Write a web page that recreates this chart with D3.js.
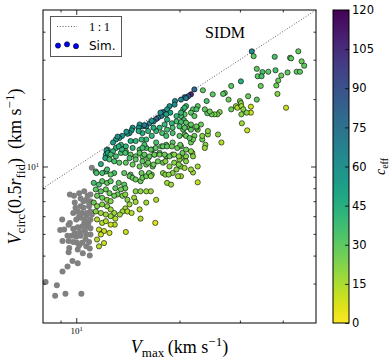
<!DOCTYPE html>
<html lang="en">
<head>
<meta charset="UTF-8">
<title>SIDM: Vcirc(0.5 r_fid) vs Vmax</title>
<script src="https://d3js.org/d3.v7.min.js"></script>
<style>
  body, html { margin: 0; padding: 0; background: #fff; }
  svg { display: block; }
  .serif { font-family: "Liberation Serif", "DejaVu Serif", serif; }
  .sans { font-family: "DejaVu Sans", sans-serif; }
</style>
</head>
<body>
<div id="chart"></div>
<script>
// resolved haloes: [Vmax, Vcirc(0.5 r_fid), c_eff]
const simPoints = [
  [32.5,32.7,65],[32.9,31.1,30],[44.4,32.7,30],[37.9,30.9,35],[42.0,30.6,30],[42.3,30.4,30],[45.4,29.5,27],[46.2,28.2,30],
  [33.6,27.3,30],[34.9,26.4,35],[36.3,26.5,30],[38.1,26.9,35],[33.8,25.3,30],[34.7,25.3,35],[41.3,26.3,30],[43.9,26.5,30],
  [44.9,26.5,30],[39.6,25.5,27],[38.8,24.2,27],[30.2,24.0,45],[34.5,22.9,27],[28.3,22.9,30],[38.3,23.0,27],[38.6,21.1,22],
  [27.1,21.3,30],[26.8,21.1,30],[25.0,21.0,30],[23.4,21.9,30],[22.6,18.6,30],[24.0,19.6,35],[27.8,19.9,27],[31.7,20.6,27],
  [33.6,19.9,30],[40.9,18.3,10],[30.0,19.6,22],[30.2,19.2,22],[29.2,18.6,18],[29.5,18.3,14],[30.3,18.6,18],[32.3,18.5,10],
  [32.3,17.4,10],[30.7,18.0,22],[31.4,17.4,22],[28.3,18.0,27],[26.2,17.5,22],[25.8,17.1,27],[25.3,17.1,22],[24.8,17.1,27],
  [24.1,17.3,30],[24.5,17.6,27],[23.7,18.0,30],[21.9,18.0,30],[21.6,17.4,30],[20.9,18.6,35],[20.5,18.0,35],[20.7,17.1,30],
  [30.3,17.1,22],[30.4,15.6,18],[31.5,14.5,10],[26.5,12.8,14],[25.9,13.9,22],[24.2,13.9,22],[24.2,14.4,22],[23.3,13.2,27],
  [23.3,13.7,22],[23.8,12.5,22],[23.7,12.1,18],[21.6,12.8,27],[22.6,14.6,27],[22.4,14.9,27],[21.4,14.9,30],[21.6,14.6,30],
  [20.5,14.6,30],[20.7,13.9,30],[20.9,13.7,27],[22.1,13.7,27],[21.9,13.2,27],[23.1,15.4,27],[21.8,11.5,18],[20.9,11.1,22],
  [20.2,16.8,35],[20.6,16.1,35],[21.9,9.4,18],[20.2,10.0,22],[20.4,11.5,27],[20.2,10.9,22],[22.6,8.5,10],
  [22.1,22.1,80],[21.6,21.0,108],[21.2,20.6,85],[20.7,20.4,80],[20.2,19.9,65],[20.9,20.2,72],[19.4,19.6,65],[19.35,18.9,60],
  [18.7,18.6,60],[18.4,18.0,55],[17.9,17.5,80],[18.8,17.4,50],[18.3,17.1,50],[17.7,16.8,72],[17.3,16.5,65],[17.1,16.3,85],
  [16.8,15.9,65],[16.35,15.6,65],[16.0,15.1,60],[15.6,15.1,65],[15.3,15.4,55],[14.6,14.9,55],[14.5,14.5,55],[14.3,14.1,50],
  [14.1,14.0,55],[13.6,13.7,55],[13.35,13.4,50],[13.05,13.2,50],[12.8,12.8,55],[12.35,11.9,50],[12.2,11.3,45],[12.15,10.9,50],
  [17.6,17.4,60],[16.6,16.0,55],[15.8,15.3,72],[15.2,14.9,60],[14.0,14.3,55],[13.2,13.6,60],[12.25,11.8,55],[12.35,11.5,50],
  [11.8,10.25,45],
  [20.7,18.3,40],[20.2,17.4,40],[22.4,18.0,35],[22.1,16.8,30],[19.6,16.8,40],[19.6,15.9,35],[20.2,15.8,35],[20.9,15.7,30],
  [20.0,15.1,35],[20.7,14.9,30],[21.6,15.4,30],[22.4,15.1,27],[18.4,16.2,45],[19.0,15.6,40],[18.1,15.4,40],[17.5,14.9,40],
  [18.4,14.6,35],[19.1,14.9,35],[17.1,14.4,40],[16.8,14.9,45],[16.2,14.4,40],[15.6,14.1,45],[15.2,14.4,45],[17.8,14.1,35],
  [18.3,13.7,35],[19.1,14.1,35],[20.0,13.7,30],[21.4,13.4,30],[16.6,13.7,40],[16.0,13.2,40],[15.5,13.2,40],[14.9,13.0,40],
  [14.4,13.0,45],[17.1,12.8,35],[17.7,12.3,30],[18.3,12.5,30],[19.1,12.8,30],[20.2,12.3,27],[20.9,11.9,27],[21.6,11.7,22],
  [16.0,12.1,35],[16.6,11.9,35],[15.3,11.9,35],[14.6,12.1,40],[13.95,12.3,40],[13.5,12.5,40],
  [13.05,12.1,40],[12.8,11.7,40],[12.6,11.3,35],[13.05,11.1,35],[13.5,11.5,35],[13.95,11.7,35],[14.4,11.3,30],[14.9,11.1,30],
  [15.6,11.1,30],[16.2,10.9,27],[16.9,11.3,30],[17.5,11.5,30],[18.3,11.1,27],[19.1,11.3,27],[20.0,10.75,22],[20.9,10.55,22],
  [21.9,11.1,22],
  [12.5,10.75,35],[12.9,10.55,35],[13.35,10.4,30],[13.95,10.4,30],[14.6,10.2,27],[15.3,10.0,27],[16.0,10.2,27],[16.7,10.0,27],
  [17.9,10.4,27],[18.7,10.0,22],[19.6,9.7,22],[20.7,9.85,18],[21.6,9.7,18],[22.6,10.0,18],
  [12.2,9.5,35],[12.9,9.35,35],[13.8,9.35,30],[14.4,9.2,30],[15.5,9.35,27],[16.6,9.2,27],[17.9,9.35,22],[19.1,9.35,22],
  [20.2,9.05,18],
  [14.3,9.05,30],[14.6,8.9,27],[14.9,8.75,27],[15.4,8.6,27],[15.6,8.9,27],[16.0,9.05,27],[16.3,9.35,27],[16.5,9.05,22],
  [18.2,9.2,22],[18.6,9.2,22],[19.8,9.05,18],[18.4,8.45,18],[18.9,8.3,18],
  [13.3,8.45,30],[13.8,8.3,30],[13.9,8.0,27],[13.5,7.9,27],[13.0,8.0,30],[13.2,7.5,27],[12.9,7.4,27],[13.65,7.4,22],
  [13.9,7.5,22],[14.1,7.1,22],[14.9,7.75,22],[15.4,7.75,22],[16.0,7.75,18],[16.5,7.75,18],[14.75,7.25,18],[14.9,6.95,18],
  [16.0,6.9,18],[17.1,7.1,14],[14.3,6.77,18],[13.9,6.5,18],[13.65,6.3,18],[14.1,6.3,14],[13.4,6.1,18],[15.3,6.43,14],
  [14.5,6.2,14],[12.9,6.2,18],[13.0,5.85,14],[15.4,5.85,14],[17.0,5.6,5],[13.95,5.1,10],[12.95,5.5,14],
  [11.4,9.5,35],[11.9,9.35,35],[12.6,9.2,30],[12.3,9.7,35],[11.25,8.45,35],[11.65,8.3,35],[11.9,8.6,30],[12.3,8.45,30],
  [12.6,8.6,30],[11.4,7.9,30],[11.8,7.75,30],[12.2,7.9,27],[12.5,7.6,27],[11.5,7.4,27],[11.9,7.25,27],[12.3,7.1,22],
  [12.6,7.0,22],[11.25,6.9,27],[11.5,6.65,22],[11.9,6.77,22],[12.3,6.65,22],[12.6,6.43,18],[11.4,6.3,22],[11.8,6.2,18],
  [12.2,6.1,18],[12.6,6.0,18],[11.5,5.8,14],[11.9,5.6,14],[12.2,5.7,14],[12.6,5.5,10],[11.65,5.23,10],[12.05,5.15,10],
  [12.5,5.05,10],[11.8,4.97,10],[11.5,4.72,14],[12.05,4.55,10],[11.65,4.4,14],
  [13.3,12.3,45],[13.6,11.9,40],[13.9,11.5,35],[14.3,10.9,35],
  [15.8,12.5,35],[15.6,12.1,35],[16.5,11.9,30],[17.05,12.1,30],[17.9,12.3,30],[18.4,12.3,30],[19.0,12.3,27],[19.7,12.1,27],
  [20.1,12.5,27],[15.3,11.5,30],[15.8,11.3,30],[16.35,11.1,30],[16.9,11.3,27],[17.5,11.3,27],[18.1,11.3,27],[18.7,11.1,27],
  [19.3,11.3,22],[19.9,11.1,22],[14.9,10.75,30],[15.6,10.55,30],[16.2,10.4,27],[16.8,10.2,27],[17.3,10.55,27],[18.2,10.55,22],
  [19.3,10.4,22],[19.9,10.2,22],[11.45,9.35,35]
];

// low-Vmax haloes drawn in grey: [Vmax, Vcirc(0.5 r_fid)]
const lowResPoints = [
  [9.58,7.5],[10.2,7.6],[10.55,7.75],[10.8,7.4],[10.5,7.0],[10.9,6.9],[10.3,6.65],[10.1,6.3],[9.8,6.2],[10.4,6.2],
  [10.7,6.05],[11.0,6.3],[10.3,5.9],[10.0,5.8],[10.6,5.8],[11.0,5.8],[9.58,5.6],[8.98,5.2],[9.22,5.23],[9.43,4.9],
  [9.12,4.65],[9.8,5.27],[10.1,5.35],[10.4,5.4],[10.8,5.4],[11.0,5.3],[10.0,4.85],[10.3,4.9],[10.7,4.97],[11.0,4.97],
  [9.8,4.6],[10.4,4.56],[10.7,4.4],[10.95,4.3],[9.54,4.33],[10.1,4.26],[9.5,4.14],[9.75,3.78],[10.1,3.7],[10.95,4.0],
  [9.43,3.58],[9.12,3.4],[8.14,3.05],[8.78,2.95],[8.68,2.65],[9.3,2.7],[10.35,2.7],[11.1,6.1],[11.1,9.87],[9.85,7.4],
  [9.1,5.8],[9.5,5.5],[10.75,6.2],[11.0,7.5],[10.5,6.55],[10.9,6.65],[10.65,4.72],[9.5,4.65],[10.05,4.56],
  [10.3,7.2],[10.7,7.1],[9.9,6.9],[10.2,6.0],[10.55,5.6],[10.85,5.6],[10.25,5.1],[10.6,5.15],[9.9,5.05],[10.9,4.6],
  [10.2,4.45],[9.7,4.9],[10.45,4.1],[9.95,6.55],[11.0,7.0]
];

const xDomain = [8, 50];
const yDomain = [2, 50];
const ceffDomain = [0, 120];
const xMajorTicks = [10];
const xMinorTicks = [9, 20, 30, 40];
const yMajorTicks = [10];
const yMinorTicks = [3, 4, 5, 6, 7, 8, 9, 20, 30, 40];
const ceffTicks = [0, 15, 30, 45, 60, 75, 90, 105, 120];
const oneToOne = [8, 50];

const width = 392, height = 361;
const plot = { left: 43, right: 316, top: 10, bottom: 323 };
const cbar = { left: 333, right: 349 };

const svg = d3.select("#chart").append("svg")
    .attr("width", width)
    .attr("height", height);

const x = d3.scaleLog().domain(xDomain).range([plot.left, plot.right]);
const y = d3.scaleLog().domain(yDomain).range([plot.bottom, plot.top]);
const color = d3.scaleSequential(d3.interpolateViridis).domain([ceffDomain[1], ceffDomain[0]]);

// 1:1 line
svg.append("line")
    .attr("x1", x(oneToOne[0])).attr("y1", y(oneToOne[0]))
    .attr("x2", x(oneToOne[1])).attr("y2", y(oneToOne[1]))
    .attr("stroke", "#333")
    .attr("stroke-width", 0.8)
    .attr("stroke-dasharray", "1,1.8");

// grey haloes
svg.append("g")
    .selectAll("circle")
    .data(lowResPoints)
    .enter().append("circle")
    .attr("cx", d => x(d[0]))
    .attr("cy", d => y(d[1]))
    .attr("r", 3)
    .attr("fill", "#808080");

// coloured haloes
svg.append("g")
    .selectAll("circle")
    .data(simPoints)
    .enter().append("circle")
    .attr("cx", d => x(d[0]))
    .attr("cy", d => y(d[1]))
    .attr("r", 2.6)
    .attr("fill", d => color(d[2]))
    .attr("stroke", "#000")
    .attr("stroke-width", 0.6);

// frame
svg.append("rect")
    .attr("x", plot.left).attr("y", plot.top)
    .attr("width", plot.right - plot.left)
    .attr("height", plot.bottom - plot.top)
    .attr("fill", "none")
    .attr("stroke", "#000")
    .attr("stroke-width", 1);

function tickLayer(axis, tx, ty) {
    const g = svg.append("g")
        .attr("transform", `translate(${tx},${ty})`)
        .call(axis);
    g.select(".domain").remove();
    g.selectAll("line").attr("stroke", "#000").attr("stroke-width", 0.8);
    return g;
}

function powerLabel(g) {
    g.selectAll("text").each(function(d) {
        const t = d3.select(this);
        t.text("").attr("class", "serif").attr("font-size", 9);
        t.append("tspan").text("10");
        t.append("tspan").attr("dy", "-0.45em").attr("font-size", 6.5).text(Math.round(Math.log10(d)));
    });
}

const noLabel = () => "";

const bx = tickLayer(d3.axisBottom(x).tickValues(xMajorTicks).tickSize(-5).tickPadding(5), 0, plot.bottom);
powerLabel(bx);
tickLayer(d3.axisBottom(x).tickValues(xMinorTicks).tickSize(-2.5).tickFormat(noLabel), 0, plot.bottom);
tickLayer(d3.axisTop(x).tickValues(xMajorTicks).tickSize(-5).tickFormat(noLabel), 0, plot.top);
tickLayer(d3.axisTop(x).tickValues(xMinorTicks).tickSize(-2.5).tickFormat(noLabel), 0, plot.top);

const ly = tickLayer(d3.axisLeft(y).tickValues(yMajorTicks).tickSize(-5).tickPadding(4), plot.left, 0);
powerLabel(ly);
tickLayer(d3.axisLeft(y).tickValues(yMinorTicks).tickSize(-2.5).tickFormat(noLabel), plot.left, 0);
tickLayer(d3.axisRight(y).tickValues(yMajorTicks).tickSize(-5).tickFormat(noLabel), plot.right, 0);
tickLayer(d3.axisRight(y).tickValues(yMinorTicks).tickSize(-2.5).tickFormat(noLabel), plot.right, 0);

// axis labels
const xl = svg.append("text")
    .attr("class", "serif")
    .attr("x", (plot.left + plot.right) / 2)
    .attr("y", 353)
    .attr("text-anchor", "middle")
    .attr("font-size", 18);
xl.append("tspan").attr("font-style", "italic").text("V");
xl.append("tspan").attr("font-size", 13).attr("dy", 4).text("max");
xl.append("tspan").attr("dy", -4).text("\u2009(km s");
xl.append("tspan").attr("font-size", 13).attr("dy", -7).text("\u22121");
xl.append("tspan").attr("dy", 7).text(")");

const yl = svg.append("text")
    .attr("class", "serif")
    .attr("transform", `translate(21,${(plot.top + plot.bottom) / 2}) rotate(-90)`)
    .attr("text-anchor", "middle")
    .attr("font-size", 18);
yl.append("tspan").attr("font-style", "italic").text("V");
yl.append("tspan").attr("font-size", 13).attr("dy", 4).text("circ");
yl.append("tspan").attr("dy", -4).text("(0.5");
yl.append("tspan").attr("font-style", "italic").text("r");
yl.append("tspan").attr("font-size", 13).attr("dy", 4).text("fid");
yl.append("tspan").attr("dy", -4).text(")\u2002(km s");
yl.append("tspan").attr("font-size", 13).attr("dy", -7).text("\u22121");
yl.append("tspan").attr("dy", 7).text(")");

// SIDM tag
svg.append("text")
    .attr("class", "serif")
    .attr("x", 205).attr("y", 38)
    .attr("font-size", 16)
    .text("SIDM");

// legend
const lg = svg.append("g");
lg.append("rect")
    .attr("x", 50.5).attr("y", 16.5)
    .attr("width", 71).attr("height", 40)
    .attr("fill", "#fff")
    .attr("stroke", "#555")
    .attr("stroke-width", 1);
lg.append("line")
    .attr("x1", 57).attr("x2", 77).attr("y1", 26.5).attr("y2", 26.5)
    .attr("stroke", "#333").attr("stroke-width", 0.8)
    .attr("stroke-dasharray", "1,1.8");
lg.append("text")
    .attr("class", "serif")
    .attr("x", 89).attr("y", 31)
    .attr("font-size", 12.5)
    .text("1\u2009:\u20091");
lg.selectAll("circle.key")
    .data([[58, 45.6], [67, 44.3], [76, 46.2]])
    .enter().append("circle")
    .attr("cx", d => d[0]).attr("cy", d => d[1])
    .attr("r", 2.6)
    .attr("fill", "#0000ff")
    .attr("stroke", "#000")
    .attr("stroke-width", 0.6);
lg.append("text")
    .attr("class", "sans")
    .attr("x", 89).attr("y", 49.5)
    .attr("font-size", 12)
    .text("Sim.");

// colorbar
const cy = d3.scaleLinear().domain(ceffDomain).range([plot.bottom, plot.top]);
const grad = svg.append("defs").append("linearGradient")
    .attr("id", "ceffGrad")
    .attr("x1", 0).attr("y1", 1).attr("x2", 0).attr("y2", 0);
grad.selectAll("stop")
    .data(d3.range(0, 1.0001, 0.05))
    .enter().append("stop")
    .attr("offset", d => d)
    .attr("stop-color", d => color(ceffDomain[0] + d * (ceffDomain[1] - ceffDomain[0])));
svg.append("rect")
    .attr("x", cbar.left).attr("y", plot.top)
    .attr("width", cbar.right - cbar.left)
    .attr("height", plot.bottom - plot.top)
    .attr("fill", "url(#ceffGrad)")
    .attr("stroke", "#000")
    .attr("stroke-width", 1);

const ca = tickLayer(d3.axisRight(cy).tickValues(ceffTicks).tickSize(-4).tickPadding(3), cbar.right, 0);
ca.selectAll("text").attr("class", "sans").attr("font-size", 11.5).attr("fill", "#000");

const cl = svg.append("text")
    .attr("class", "serif")
    .attr("transform", `translate(385,${(plot.top + plot.bottom) / 2}) rotate(-90)`)
    .attr("text-anchor", "middle")
    .attr("font-size", 14);
cl.append("tspan").attr("font-style", "italic").text("c");
cl.append("tspan").attr("font-size", 10).attr("dy", 3).text("eff");
</script>
</body>
</html>
